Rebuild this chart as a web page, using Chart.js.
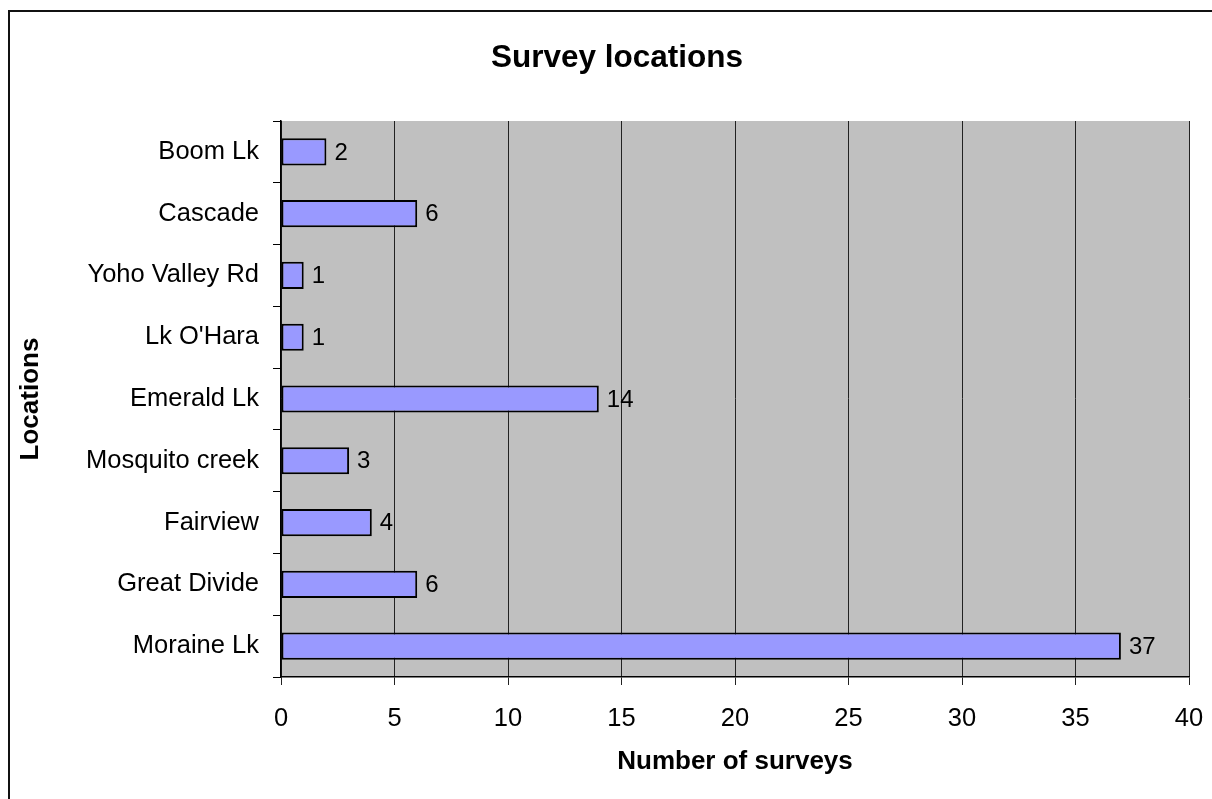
<!DOCTYPE html>
<html>
<head>
<meta charset="utf-8">
<title>Survey locations</title>
<script src="https://cdn.jsdelivr.net/npm/chart.js@4"></script>
<style>
  html, body { margin: 0; padding: 0; background: #fff; overflow: hidden; }
  #frame { position: absolute; left: 8px; top: 10px; width: 1300px; height: 900px;
           border-top: 2px solid #111; border-left: 2px solid #111; }
  #wrap { position: absolute; left: 0; top: 0; width: 1212px; height: 799px; }
</style>
</head>
<body>
<div id="frame"></div>
<div id="wrap"><canvas id="chart1" width="1212" height="799"></canvas></div>
<script>
/* DATA */
var locations = ['Boom Lk', 'Cascade', 'Yoho Valley Rd', "Lk O'Hara", 'Emerald Lk',
                 'Mosquito creek', 'Fairview', 'Great Divide', 'Moraine Lk'];
var surveys = [2, 6, 1, 1, 14, 3, 4, 6, 37];
var xTicks = [0, 5, 10, 15, 20, 25, 30, 35, 40];
var chartTitle = 'Survey locations';
var xTitle = 'Number of surveys';
var yTitle = 'Locations';

var fontName = '"Liberation Sans", Arial, sans-serif';

// grey plot area + main title
var backgroundPlugin = {
  id: 'plotBack',
  beforeDraw: function(chart) {
    var a = chart.chartArea;
    var ctx = chart.ctx;
    ctx.save();
    ctx.fillStyle = '#c0c0c0';
    ctx.fillRect(a.left, a.top, a.right - a.left, a.bottom - a.top);
    ctx.fillStyle = '#000';
    ctx.font = 'bold 31.5px ' + fontName;
    ctx.textAlign = 'center';
    ctx.textBaseline = 'middle';
    ctx.fillText(chartTitle, 617, 58);
    ctx.restore();
  }
};

// value labels right of each bar
var valueLabels = {
  id: 'valueLabels',
  afterDatasetsDraw: function(chart) {
    var ctx = chart.ctx;
    var meta = chart.getDatasetMeta(0);
    ctx.save();
    ctx.fillStyle = '#000';
    ctx.font = '24px ' + fontName;
    ctx.textAlign = 'left';
    ctx.textBaseline = 'middle';
    meta.data.forEach(function(bar, i) {
      ctx.fillText(String(surveys[i]), bar.x + 8, bar.y + 1);
    });
    ctx.restore();
  }
};

var ctx1 = document.getElementById('chart1').getContext('2d');
var chart1 = new Chart(ctx1, {
  type: 'bar',
  data: {
    labels: locations,
    datasets: [{
      data: surveys,
      backgroundColor: '#9999ff',
      borderColor: '#000',
      borderWidth: 2,
      borderSkipped: false,
      categoryPercentage: 1,
      barPercentage: 0.44
    }]
  },
  options: {
    indexAxis: 'y',
    responsive: false,
    animation: false,
    layout: { padding: { top: 121, right: 23, left: 0, bottom: 0 } },
    plugins: {
      legend: { display: false },
      tooltip: { enabled: false },
      title: { display: false }
    },
    scales: {
      x: {
        min: 0,
        max: 40,
        afterBuildTicks: function(scale) {
          scale.ticks = xTicks.map(function(v) { return { value: v }; });
        },
        afterFit: function(scale) {
          scale.height = 122;
          scale.paddingLeft = 0;
          scale.paddingRight = 0;
        },
        grid: { color: '#222', lineWidth: 1, tickLength: 8, drawOnChartArea: true },
        border: { display: true, color: '#000', width: 1.5 },
        ticks: { color: '#000', font: { family: fontName, size: 25.5 }, padding: 19, maxRotation: 0 },
        title: {
          display: true,
          text: xTitle,
          color: '#000',
          font: { family: fontName, size: 26, weight: 'bold' },
          padding: { top: 0, bottom: 22 }
        }
      },
      y: {
        afterFit: function(scale) {
          scale.width = 281;
          scale.paddingTop = 0;
          scale.paddingBottom = 0;
        },
        grid: { color: '#000', lineWidth: 1, tickLength: 8, drawOnChartArea: false, offset: true },
        border: { display: true, color: '#000', width: 1.5 },
        ticks: { color: '#000', font: { family: fontName, size: 25.5 }, padding: 14 },
        title: {
          display: true,
          text: yTitle,
          color: '#000',
          font: { family: fontName, size: 26, weight: 'bold' },
          padding: { top: 15, bottom: 0 }
        }
      }
    }
  },
  plugins: [backgroundPlugin, valueLabels]
});
</script>
</body>
</html>
